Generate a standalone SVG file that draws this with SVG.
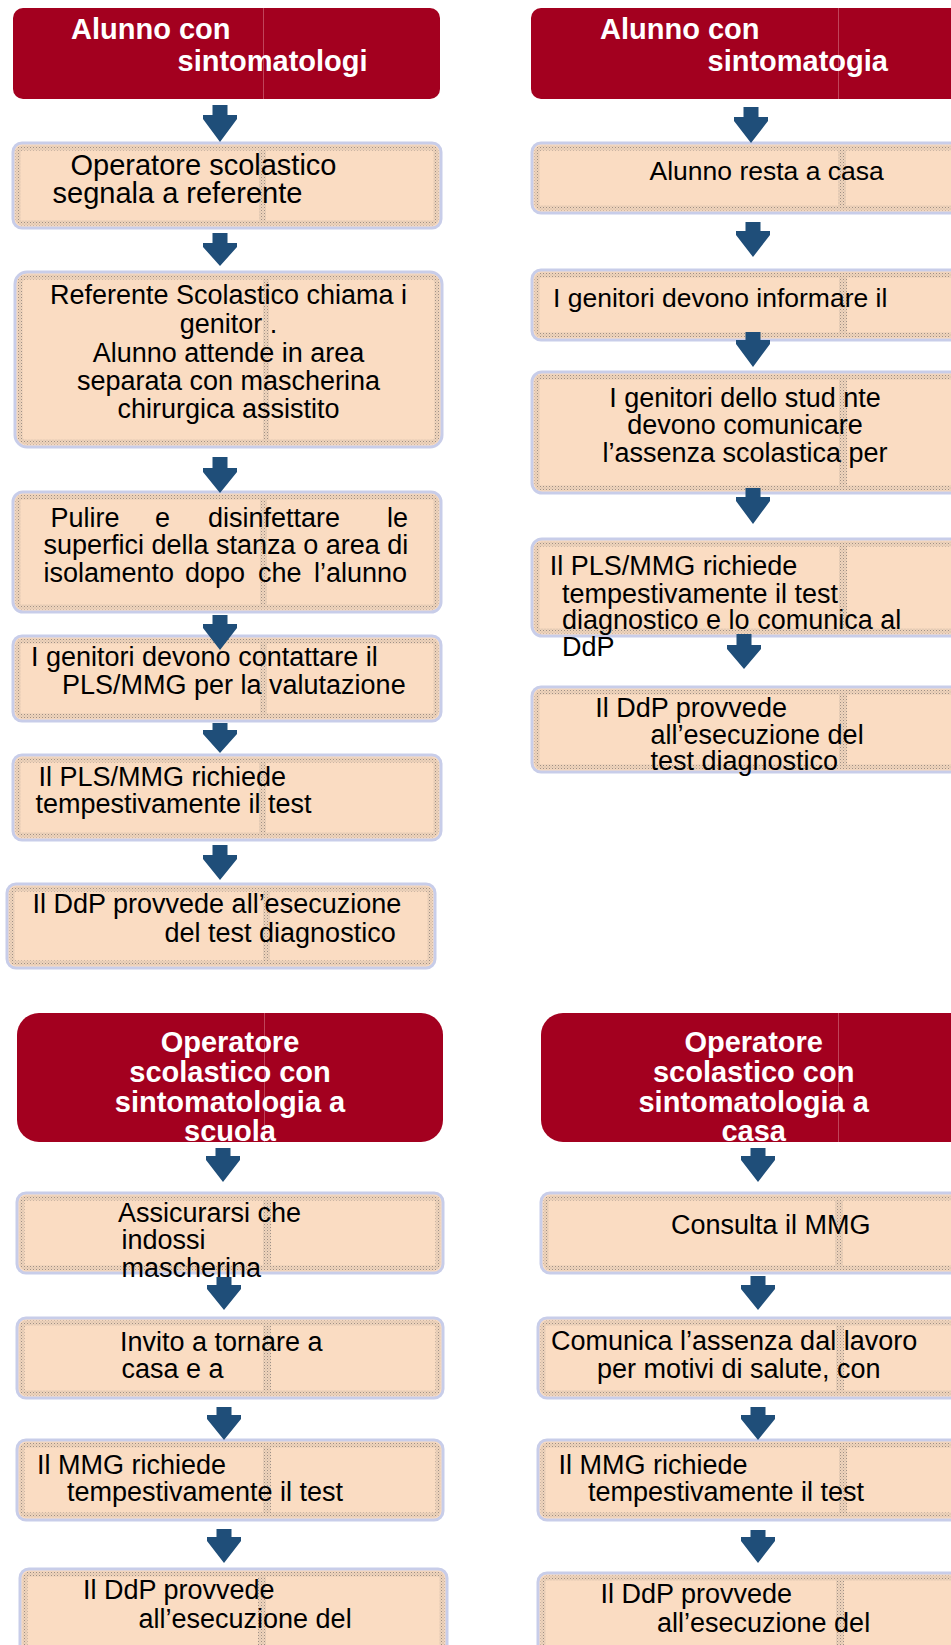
<svg xmlns="http://www.w3.org/2000/svg" width="951" height="1645" viewBox="0 0 951 1645">
<defs>
<pattern id="dots" width="3" height="3" patternUnits="userSpaceOnUse">
<rect width="3" height="3" fill="#EFD3BA"/>
<rect width="1" height="1" fill="#9E9086"/>
<rect x="1.5" y="1.5" width="1" height="1" fill="#C4B6A8"/>
</pattern>
<style>
.box{fill:#FADCC2;stroke:#C8CDE9;stroke-width:3}
.edge{fill:none;stroke:url(#dots);stroke-width:5}
.div{fill:url(#dots)}
.hdr{fill:#A3001F}
.hline{stroke:#C0445A;stroke-width:1}
.t{font-family:"Liberation Sans",Arial,sans-serif;font-size:27px;fill:#000}
.t29{font-size:29px}
.t265{font-size:26.5px}
.h{font-family:"Liberation Sans",Arial,sans-serif;font-size:29px;font-weight:bold;fill:#fff}
.m{text-anchor:middle}
.arr{fill:#1F4E79}
</style>
</defs>

<!-- LEFT TOP COLUMN -->
<g id="L1">
<rect class="hdr" x="13" y="8" width="427" height="91" rx="10"/>
<line class="hline" x1="263.5" y1="8" x2="263.5" y2="99"/>
<text class="h"><tspan x="71" y="39">Alunno con</tspan><tspan x="177.5" y="71">sintomatologi</tspan></text>
</g>
<g id="L2">
<rect class="box" x="13" y="143" width="428" height="85" rx="9"/>
<rect class="edge" x="18" y="148" width="418" height="75" rx="4"/>
<rect class="div" x="259" y="148" width="7" height="75"/>
<text class="t t29"><tspan x="70.5" y="175">Operatore scolastico</tspan><tspan x="52.5" y="203">segnala a referente</tspan></text>
</g>
<g id="L3">
<rect class="box" x="15" y="272" width="427" height="175" rx="12"/>
<rect class="edge" x="20" y="277" width="417" height="165" rx="6"/>
<rect class="div" x="263" y="277" width="6" height="165"/>
<text class="t m"><tspan x="228.5" y="304">Referente Scolastico chiama i</tspan><tspan x="228.5" y="332.5">genitor .</tspan><tspan x="228.5" y="361.5">Alunno attende in area</tspan><tspan x="228.5" y="390">separata con mascherina</tspan><tspan x="228.5" y="417.5">chirurgica assistito</tspan></text>
</g>
<g id="L4">
<rect class="box" x="13" y="492" width="428" height="120" rx="10"/>
<rect class="edge" x="18" y="497" width="418" height="110" rx="4"/>
<rect class="div" x="260" y="497" width="7" height="110"/>
<text class="t"><tspan x="50.5" y="526.7">Pulire</tspan><tspan x="155" y="526.7">e</tspan><tspan x="208" y="526.7">disinfettare</tspan><tspan x="387" y="526.7">le</tspan><tspan x="43.5" y="554">superfici della stanza o area di</tspan><tspan x="43.5" y="581.7">isolamento</tspan><tspan x="185" y="581.7">dopo</tspan><tspan x="258" y="581.7">che</tspan><tspan x="314" y="581.7">l’alunno</tspan></text>
</g>
<g id="L5">
<rect class="box" x="13" y="636" width="428" height="85" rx="9"/>
<rect class="edge" x="18" y="641" width="418" height="75" rx="4"/>
<rect class="div" x="260" y="641" width="7" height="75"/>
<text class="t"><tspan x="31" y="666">I genitori devono contattare il</tspan><tspan x="62" y="694.3">PLS/MMG per la valutazione</tspan></text>
</g>
<g id="L6">
<rect class="box" x="13" y="755" width="428" height="85" rx="9"/>
<rect class="edge" x="18" y="760" width="418" height="75" rx="4"/>
<rect class="div" x="259" y="760" width="7" height="75"/>
<text class="t"><tspan x="38.5" y="786">Il PLS/MMG richiede</tspan><tspan x="35.5" y="813.3">tempestivamente il test</tspan></text>
</g>
<g id="L7">
<rect class="box" x="7" y="884" width="428" height="84" rx="9"/>
<rect class="edge" x="12" y="889" width="418" height="74" rx="4"/>
<rect class="div" x="263" y="889" width="7" height="74"/>
<text class="t"><tspan x="32.5" y="913.3">Il DdP provvede all’esecuzione</tspan><tspan x="164.5" y="941.7">del test diagnostico</tspan></text>
</g>

<!-- RIGHT TOP COLUMN -->
<g id="R1">
<rect class="hdr" x="531" y="8" width="450" height="91" rx="10"/>
<line class="hline" x1="838.5" y1="8" x2="838.5" y2="99"/>
<text class="h"><tspan x="600" y="39">Alunno con</tspan><tspan x="707.5" y="71">sintomatogia</tspan></text>
</g>
<g id="R2">
<rect class="box" x="532" y="143" width="450" height="70" rx="9"/>
<rect class="edge" x="537" y="148" width="440" height="60" rx="4"/>
<rect class="div" x="838" y="148" width="8" height="60"/>
<text class="t t265"><tspan x="649.5" y="180">Alunno resta a casa</tspan></text>
</g>
<g id="R3">
<rect class="box" x="532" y="270" width="450" height="70" rx="9"/>
<rect class="edge" x="537" y="275" width="440" height="60" rx="4"/>
<rect class="div" x="839" y="275" width="8" height="60"/>
<text class="t t265"><tspan x="553" y="306.7">I genitori devono informare il</tspan></text>
</g>
<g id="R4">
<rect class="box" x="532" y="372" width="450" height="121" rx="10"/>
<rect class="edge" x="537" y="377" width="440" height="111" rx="4"/>
<rect class="div" x="839" y="377" width="8" height="111"/>
<text class="t m"><tspan x="745" y="407.3">I genitori dello stud nte</tspan><tspan x="745" y="434">devono comunicare</tspan><tspan x="745" y="461.7">l’assenza scolastica per</tspan></text>
</g>
<g id="R5">
<rect class="box" x="532" y="539" width="450" height="97" rx="10"/>
<rect class="edge" x="537" y="544" width="440" height="87" rx="4"/>
<rect class="div" x="839" y="544" width="8" height="87"/>
<text class="t"><tspan x="549.7" y="575">Il PLS/MMG richiede</tspan><tspan x="562" y="602.7">tempestivamente il test</tspan><tspan x="562" y="629.3">diagnostico e lo comunica al</tspan><tspan x="562" y="656">DdP</tspan></text>
</g>
<g id="R6">
<rect class="box" x="532" y="687" width="450" height="85" rx="9"/>
<rect class="edge" x="537" y="692" width="440" height="75" rx="4"/>
<rect class="div" x="839" y="692" width="8" height="75"/>
<text class="t"><tspan x="595.3" y="716.7">Il DdP provvede</tspan><tspan x="650.5" y="744">all’esecuzione del</tspan><tspan x="650.5" y="770">test diagnostico</tspan></text>
</g>

<!-- LEFT BOTTOM COLUMN -->
<g id="LB0">
<rect class="hdr" x="17" y="1013" width="426" height="129" rx="22"/>
<line class="hline" x1="264.5" y1="1013" x2="264.5" y2="1142"/>
<text class="h m"><tspan x="230" y="1051.7">Operatore</tspan><tspan x="230" y="1081.7">scolastico con</tspan><tspan x="230" y="1111.7">sintomatologia a</tspan><tspan x="230" y="1140.7">scuola</tspan></text>
</g>
<g id="LB1">
<rect class="box" x="17" y="1193" width="426" height="80" rx="9"/>
<rect class="edge" x="22" y="1198" width="416" height="70" rx="4"/>
<rect class="div" x="263" y="1198" width="8" height="70"/>
<text class="t"><tspan x="118" y="1221.7">Assicurarsi che</tspan><tspan x="121.5" y="1249.3">indossi</tspan><tspan x="121.5" y="1277.3">mascherina</tspan></text>
</g>
<g id="LB2">
<rect class="box" x="17" y="1318" width="426" height="80" rx="9"/>
<rect class="edge" x="22" y="1323" width="416" height="70" rx="4"/>
<rect class="div" x="263" y="1323" width="8" height="70"/>
<text class="t"><tspan x="120" y="1350.7">Invito a tornare a</tspan><tspan x="121.5" y="1378.3">casa e a</tspan></text>
</g>
<g id="LB3">
<rect class="box" x="17" y="1440" width="426" height="80" rx="9"/>
<rect class="edge" x="22" y="1445" width="416" height="70" rx="4"/>
<rect class="div" x="263" y="1445" width="8" height="70"/>
<text class="t"><tspan x="37" y="1474">Il MMG richiede</tspan><tspan x="67" y="1501">tempestivamente il test</tspan></text>
</g>
<g id="LB4">
<rect class="box" x="20" y="1569" width="427" height="100" rx="9"/>
<rect class="edge" x="25" y="1574" width="417" height="90" rx="4"/>
<rect class="div" x="258" y="1574" width="8" height="90"/>
<text class="t"><tspan x="83" y="1599.3">Il DdP provvede</tspan><tspan x="138.5" y="1628.3">all’esecuzione del</tspan></text>
</g>

<!-- RIGHT BOTTOM COLUMN -->
<g id="RB0">
<rect class="hdr" x="541" y="1013" width="440" height="129" rx="22"/>
<line class="hline" x1="838.5" y1="1013" x2="838.5" y2="1142"/>
<text class="h m"><tspan x="753.7" y="1051.7">Operatore</tspan><tspan x="753.7" y="1081.7">scolastico con</tspan><tspan x="753.7" y="1111.7">sintomatologia a</tspan><tspan x="753.7" y="1140.7">casa</tspan></text>
</g>
<g id="RB1">
<rect class="box" x="541" y="1193" width="440" height="80" rx="9"/>
<rect class="edge" x="546" y="1198" width="430" height="70" rx="4"/>
<rect class="div" x="835" y="1198" width="8" height="70"/>
<text class="t"><tspan x="671" y="1234">Consulta il MMG</tspan></text>
</g>
<g id="RB2">
<rect class="box" x="538" y="1318" width="443" height="80" rx="9"/>
<rect class="edge" x="543" y="1323" width="433" height="70" rx="4"/>
<rect class="div" x="836" y="1323" width="8" height="70"/>
<text class="t"><tspan x="551" y="1350">Comunica l’assenza dal lavoro</tspan><tspan x="597" y="1378.3">per motivi di salute, con</tspan></text>
</g>
<g id="RB3">
<rect class="box" x="538" y="1440" width="443" height="80" rx="9"/>
<rect class="edge" x="543" y="1445" width="433" height="70" rx="4"/>
<rect class="div" x="839" y="1445" width="8" height="70"/>
<text class="t"><tspan x="558.5" y="1474">Il MMG richiede</tspan><tspan x="588" y="1501">tempestivamente il test</tspan></text>
</g>
<g id="RB4">
<rect class="box" x="538" y="1573" width="443" height="100" rx="9"/>
<rect class="edge" x="543" y="1578" width="433" height="90" rx="4"/>
<rect class="div" x="836" y="1578" width="8" height="90"/>
<text class="t"><tspan x="600.5" y="1603.3">Il DdP provvede</tspan><tspan x="657" y="1631.7">all’esecuzione del</tspan></text>
</g>

<!-- CONNECTORS -->
<g id="connectors">
<polygon class="arr" points="212.5,105 227.5,105 227.5,115 237,115 237,119 220,142 203,119 203,115 212.5,115"/>
<polygon class="arr" points="212.5,233 227.5,233 227.5,243 237,243 237,247 220,266 203,247 203,243 212.5,243"/>
<polygon class="arr" points="212.5,457 227.5,457 227.5,468 237,468 237,472 220,493 203,472 203,468 212.5,468"/>
<polygon class="arr" points="212.5,615 227.5,615 227.5,624 237,624 237,628 220,650 203,628 203,624 212.5,624"/>
<polygon class="arr" points="212.5,723 227.5,723 227.5,730 237,730 237,734 220,753 203,734 203,730 212.5,730"/>
<polygon class="arr" points="212.5,845 227.5,845 227.5,855 237,855 237,859 220,880 203,859 203,855 212.5,855"/>

<polygon class="arr" points="743.5,107 758.5,107 758.5,117 768,117 768,121 751,143 734,121 734,117 743.5,117"/>
<polygon class="arr" points="745.5,222 760.5,222 760.5,231 770,231 770,235 753,257 736,235 736,231 745.5,231"/>
<polygon class="arr" points="745.5,332 760.5,332 760.5,340 770,340 770,344 753,367 736,344 736,340 745.5,340"/>
<polygon class="arr" points="745.5,488 760.5,488 760.5,497 770,497 770,501 753,524 736,501 736,497 745.5,497"/>
<polygon class="arr" points="736.5,634 751.5,634 751.5,645 761,645 761,649 744,669 727,649 727,645 736.5,645"/>

<polygon class="arr" points="215.5,1148 230.5,1148 230.5,1156 240,1156 240,1160 223,1182 206,1160 206,1156 215.5,1156"/>
<polygon class="arr" points="216.5,1277 231.5,1277 231.5,1285 241,1285 241,1289 224,1310 207,1289 207,1285 216.5,1285"/>
<polygon class="arr" points="216.5,1407 231.5,1407 231.5,1415 241,1415 241,1419 224,1440 207,1419 207,1415 216.5,1415"/>
<polygon class="arr" points="216.5,1529 231.5,1529 231.5,1537 241,1537 241,1541 224,1563 207,1541 207,1537 216.5,1537"/>

<polygon class="arr" points="750.5,1148 765.5,1148 765.5,1156 775,1156 775,1160 758,1182 741,1160 741,1156 750.5,1156"/>
<polygon class="arr" points="750.5,1276 765.5,1276 765.5,1285 775,1285 775,1289 758,1310 741,1289 741,1285 750.5,1285"/>
<polygon class="arr" points="750.5,1407 765.5,1407 765.5,1415 775,1415 775,1419 758,1440 741,1419 741,1415 750.5,1415"/>
<polygon class="arr" points="750.5,1530 765.5,1530 765.5,1537 775,1537 775,1541 758,1563 741,1541 741,1537 750.5,1537"/>
</g>
</svg>
